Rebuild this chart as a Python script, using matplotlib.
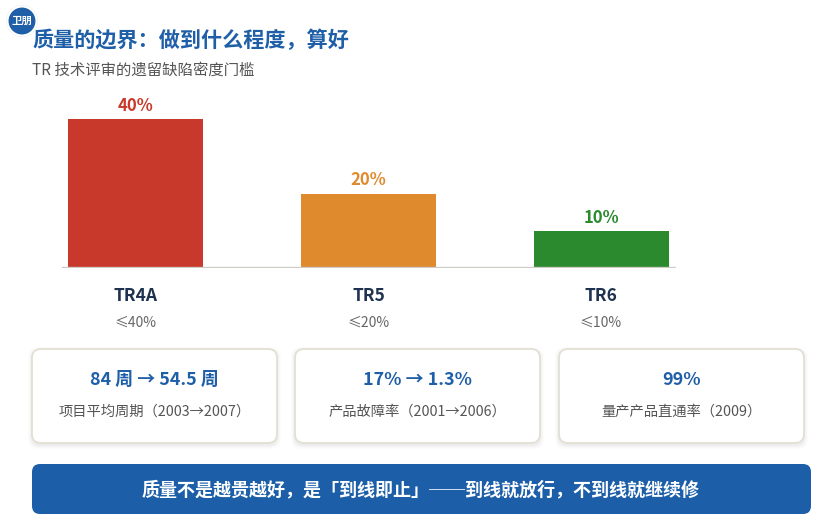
import matplotlib
matplotlib.use("Agg")
import matplotlib.pyplot as plt
from matplotlib.patches import FancyBboxPatch, Circle

plt.rcParams['font.family'] = ['Noto Sans CJK SC', 'DejaVu Sans']

# data
stages = ['TR4A', 'TR5', 'TR6']
defect_pct = [40, 20, 10]
limit_labels = ['≤40%', '≤20%', '≤10%']
bar_colors = ['#c8392b', '#e08a2e', '#2b8a2e']

card_values = ['84 周 → 54.5 周', '17% → 1.3%', '99%']
card_notes = ['项目平均周期（2003→2007）', '产品故障率（2001→2006）', '量产产品直通率（2009）']

title = '质量的边界：做到什么程度，算好'
subtitle = 'TR 技术评审的遗留缺陷密度门槛'
banner = '质量不是越贵越好，是「到线即止」──到线就放行，不到线就继续修'

BLUE = '#1f5fa8'
W, H = 820, 523

fig = plt.figure(figsize=(W / 100, H / 100), dpi=100)

# background layer in pixel coords
bg = fig.add_axes([0, 0, 1, 1])
bg.set_xlim(0, W)
bg.set_ylim(H, 0)
bg.axis('off')

bg.add_patch(Circle((22, 21), 16, facecolor='#000000', edgecolor='none', alpha=0.08, zorder=4))
bg.add_patch(Circle((22, 21), 14.5, facecolor=BLUE, edgecolor='white', lw=1.5, zorder=5))
bg.text(22, 21, '卫朋', color='white', fontsize=7.5, fontweight='bold', ha='center', va='center', zorder=6)

bg.text(32, 40, title, color=BLUE, fontsize=15.2, fontweight='bold', va='center', ha='left')
bg.text(32, 70, subtitle, color='#555555', fontsize=11.1, va='center', ha='left')

# bar chart
px_left, px_right, px_top, px_base = 62, 676, 80, 268
ax = fig.add_axes([px_left / W, 1 - px_base / H, (px_right - px_left) / W, (px_base - px_top) / H])
xs = list(range(len(stages)))
ax.bar(xs, defect_pct, width=0.58, color=bar_colors, zorder=2)
ax.set_xlim(-0.315, 2.32)
ax.set_ylim(0, (px_base - px_top) / 3.72)
ax.axis('off')
ax.axhline(0, color='#cfcbc6', lw=2.4, zorder=3)
for x, v, c in zip(xs, defect_pct, bar_colors):
    ax.annotate(f'{v}%', (x, v), xytext=(0, 3), textcoords='offset points',
                ha='center', va='bottom', color=c, fontsize=12, fontweight='bold')

centers = [135.5, 368.5, 601]
for cx, s, lim in zip(centers, stages, limit_labels):
    bg.text(cx, 296, s, color='#1e3250', fontsize=12.5, fontweight='bold', ha='center', va='center')
    bg.text(cx, 323, lim, color='#666666', fontsize=10, ha='center', va='center')

# cards
card_x = [32, 295, 559]
card_w = 245
cy0, cy1 = 349, 443
for x0, val, note in zip(card_x, card_values, card_notes):
    for i, a in enumerate([0.025, 0.02, 0.015, 0.01]):
        bg.add_patch(FancyBboxPatch((x0 - 1 - i, cy0 + 1 - i), card_w + 2 + 2 * i, cy1 - cy0 + 2 + 2 * i,
                                    boxstyle='round,pad=0,rounding_size=10', facecolor='#000000',
                                    edgecolor='none', alpha=a, zorder=1))
    bg.add_patch(FancyBboxPatch((x0, cy0), card_w, cy1 - cy0,
                                boxstyle='round,pad=0,rounding_size=9', facecolor='white',
                                edgecolor='#e3dfd3', lw=1.3, zorder=2))
    mx = x0 + card_w / 2
    bg.text(mx, 380, val, color=BLUE, fontsize=12.9, fontweight='bold', ha='center', va='center', zorder=3)
    bg.text(mx, 412, note, color='#555555', fontsize=10.3, ha='center', va='center', zorder=3)

# banner
bg.add_patch(FancyBboxPatch((32, 464), 779, 50, boxstyle='round,pad=0,rounding_size=8',
                            facecolor='#1c5fa8', edgecolor='none', zorder=2))
bg.text(421, 490, banner, color='white', fontsize=13, fontweight='bold', ha='center', va='center', zorder=3)

fig.savefig('out.png', dpi=100)
